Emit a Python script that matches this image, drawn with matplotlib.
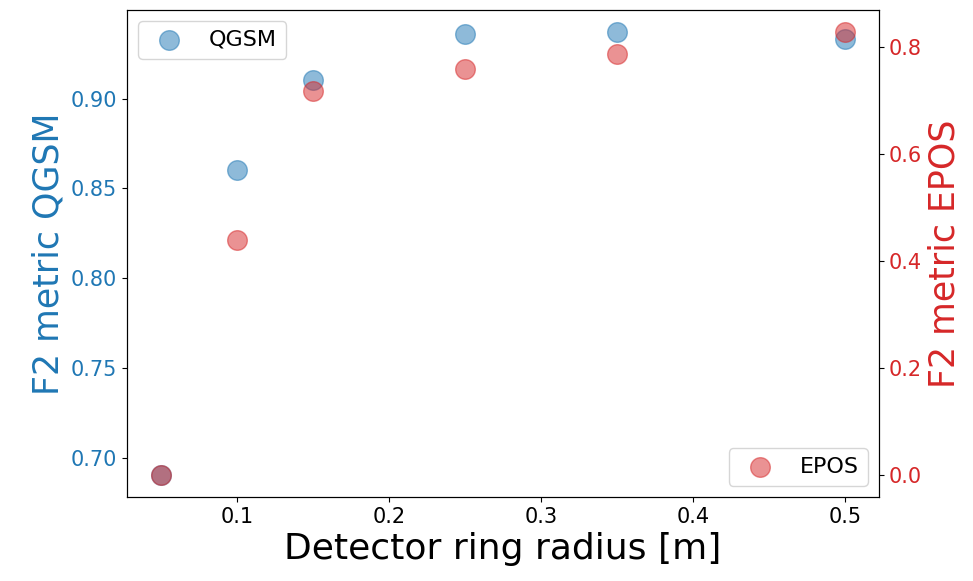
import matplotlib
matplotlib.use("Agg")
import matplotlib.pyplot as plt

# ring radius [m] and F2 scores for both hadronic models
radius = [0.05, 0.1, 0.15, 0.25, 0.35, 0.5]
f2_qgsm = [0.6905, 0.8605, 0.9105, 0.936, 0.937, 0.933]
f2_epos = [0.0, 0.439, 0.718, 0.759, 0.788, 0.828]

fig, ax1 = plt.subplots(figsize=(9.73, 5.81), dpi=100)
fig.subplots_adjust(left=0.1305, right=0.9034, top=0.9828, bottom=0.1446)

ax1.scatter(radius, f2_qgsm, s=200, color='tab:blue', alpha=0.5, label='QGSM')
ax1.set_xlabel('Detector ring radius [m]', fontsize=26)
ax1.set_ylabel('F2 metric QGSM', fontsize=25, color='tab:blue')
ax1.tick_params(axis='y', labelcolor='tab:blue', labelsize=15)
ax1.tick_params(axis='x', labelsize=15)
ax1.legend(loc='upper left', fontsize=16)

ax2 = ax1.twinx()
ax2.scatter(radius, f2_epos, s=200, color='tab:red', alpha=0.5, label='EPOS')
ax2.set_ylabel('F2 metric EPOS', fontsize=25, color='tab:red')
ax2.tick_params(axis='y', labelcolor='tab:red', labelsize=15)
ax2.legend(loc='lower right', fontsize=16)

plt.savefig('out.png')
